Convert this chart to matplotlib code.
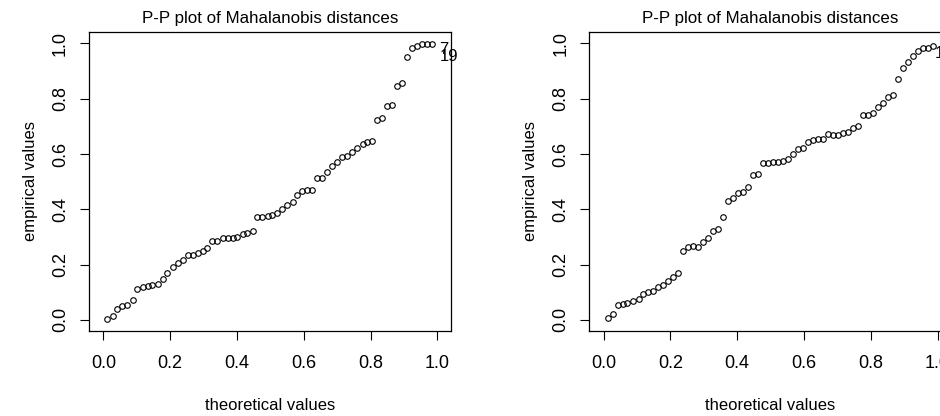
import matplotlib
matplotlib.use("Agg")
import matplotlib.pyplot as plt

plt.rcParams["font.family"] = ["Liberation Sans", "DejaVu Sans"]

# P-P plot data: theoretical vs empirical probabilities for the two samples
theo_a = [0.012, 0.030, 0.042, 0.057, 0.070, 0.088, 0.102, 0.118, 0.133, 0.147,
          0.163, 0.178, 0.192, 0.208, 0.223, 0.238, 0.252, 0.267, 0.282, 0.297,
          0.311, 0.325, 0.341, 0.357, 0.372, 0.387, 0.401, 0.417, 0.431, 0.447,
          0.461, 0.476, 0.492, 0.506, 0.521, 0.536, 0.551, 0.567, 0.581, 0.596,
          0.611, 0.626, 0.641, 0.656, 0.671, 0.686, 0.701, 0.716, 0.731, 0.746,
          0.761, 0.776, 0.790, 0.805, 0.819, 0.834, 0.849, 0.864, 0.879, 0.894,
          0.909, 0.924, 0.939, 0.954, 0.969, 0.984]
emp_a = [0.004, 0.014, 0.039, 0.051, 0.054, 0.072, 0.113, 0.120, 0.124, 0.127,
         0.130, 0.147, 0.169, 0.193, 0.205, 0.217, 0.235, 0.234, 0.241, 0.251,
         0.259, 0.287, 0.286, 0.295, 0.295, 0.298, 0.301, 0.310, 0.316, 0.322,
         0.371, 0.371, 0.376, 0.380, 0.388, 0.400, 0.416, 0.428, 0.452, 0.467,
         0.470, 0.470, 0.513, 0.513, 0.536, 0.557, 0.572, 0.590, 0.593, 0.608,
         0.620, 0.636, 0.645, 0.648, 0.723, 0.729, 0.773, 0.777, 0.847, 0.855,
         0.949, 0.984, 0.990, 0.998, 0.998, 0.998]

theo_b = [0.012, 0.028, 0.042, 0.057, 0.070, 0.087, 0.105, 0.117, 0.132, 0.147,
          0.162, 0.178, 0.193, 0.208, 0.222, 0.237, 0.252, 0.267, 0.283, 0.297,
          0.312, 0.327, 0.343, 0.358, 0.372, 0.387, 0.402, 0.417, 0.432, 0.447,
          0.462, 0.477, 0.492, 0.507, 0.522, 0.537, 0.552, 0.567, 0.582, 0.597,
          0.612, 0.627, 0.642, 0.657, 0.672, 0.687, 0.702, 0.717, 0.732, 0.747,
          0.762, 0.777, 0.792, 0.807, 0.822, 0.837, 0.852, 0.867, 0.881, 0.896,
          0.911, 0.926, 0.941, 0.956, 0.971, 0.986]
emp_b = [0.006, 0.022, 0.054, 0.057, 0.060, 0.069, 0.075, 0.094, 0.101, 0.105,
         0.118, 0.127, 0.142, 0.157, 0.169, 0.251, 0.265, 0.267, 0.265, 0.283,
         0.295, 0.322, 0.328, 0.373, 0.431, 0.440, 0.458, 0.461, 0.480, 0.524,
         0.527, 0.569, 0.569, 0.571, 0.572, 0.576, 0.583, 0.600, 0.617, 0.622,
         0.645, 0.651, 0.653, 0.655, 0.671, 0.670, 0.670, 0.675, 0.678, 0.693,
         0.702, 0.740, 0.742, 0.747, 0.769, 0.786, 0.807, 0.812, 0.872, 0.910,
         0.934, 0.954, 0.973, 0.982, 0.984, 0.992]

# flagged observations written next to the extreme points
labels_a = ["7", "19"]
label_pos_a = [(1.020, 0.976), (1.035, 0.951)]
labels_b = ["7", "19"]
label_pos_b = [(1.022, 0.975), (1.019, 0.962)]

ticks = [0.0, 0.2, 0.4, 0.6, 0.8, 1.0]
tick_text = ["0.0", "0.2", "0.4", "0.6", "0.8", "1.0"]

W, H = 940, 416
fig = plt.figure(figsize=(W / 100, H / 100), dpi=100)


def panel(left_px, xs, ys, labels, label_pos):
    ax = fig.add_axes([left_px / W, (H - 331) / H, 362 / W, 299 / H])
    ax.plot(xs, ys, linestyle="none", marker="o", markersize=4.0,
            markerfacecolor="none", markeredgecolor="black", markeredgewidth=0.8)
    ax.set_xlim(-0.043, 1.041)
    ax.set_ylim(-0.040, 1.041)
    ax.set_xticks(ticks)
    ax.set_xticklabels(tick_text)
    ax.set_yticks(ticks)
    ax.set_yticklabels(tick_text, rotation=90, va="center")
    ax.tick_params(axis="both", direction="out", length=6.5, width=0.8,
                   labelsize=13, colors="black")
    ax.tick_params(axis="x", pad=11)
    ax.tick_params(axis="y", pad=8)
    for s in ax.spines.values():
        s.set_linewidth(0.9)
    for (tx, ty), lab in zip(label_pos, labels):
        ax.text(tx, ty, lab, fontsize=12, ha="center", va="center", clip_on=False)
    cx = (left_px + 181) / W
    fig.text(cx, 1 - 18.3 / H, "P-P plot of Mahalanobis distances",
             fontsize=12.2, ha="center", va="center")
    fig.text(cx, 1 - 405 / H, "theoretical values", fontsize=12,
             ha="center", va="center")
    fig.text((left_px - 58.3) / W, 1 - 181.5 / H, "empirical values",
             fontsize=12, ha="center", va="center", rotation=90)
    return ax


panel(89, theo_a, emp_a, labels_a, label_pos_a)
panel(589.3, theo_b, emp_b, labels_b, label_pos_b)

fig.savefig("out.png", dpi=100)
